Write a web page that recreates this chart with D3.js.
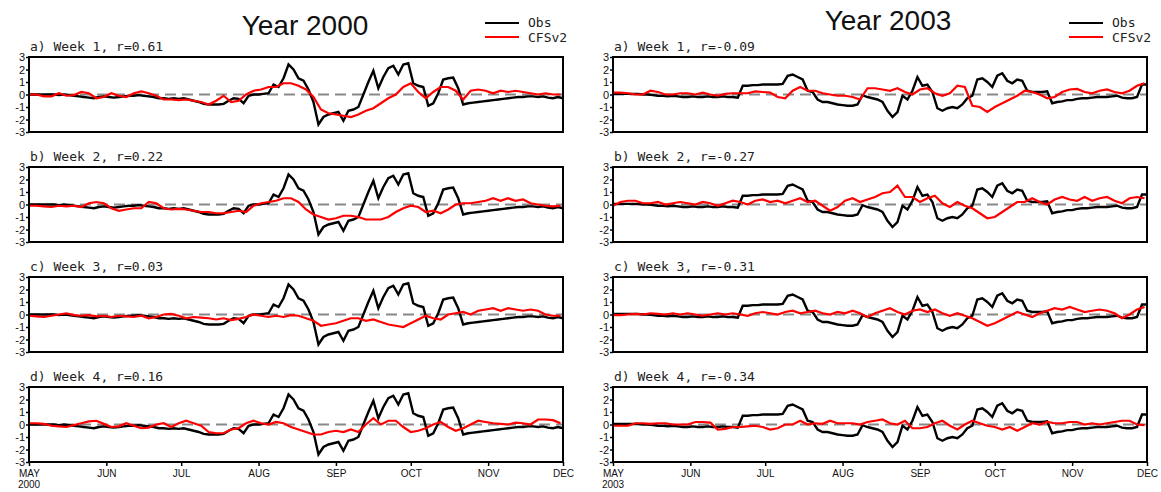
<!DOCTYPE html>
<html>
<head>
<meta charset="utf-8">
<title>Obs vs CFSv2, Year 2000 and Year 2003</title>
<script src="https://d3js.org/d3.v7.min.js"></script>
<style>
  body { margin: 0; background: #fff; }
</style>
</head>
<body>
<script>

// tick labels and categories
var months = ["MAY", "JUN", "JUL", "AUG", "SEP", "OCT", "NOV", "DEC"];
var yTicks = [-3, -2, -1, 0, 1, 2, 3];
var weekLabels = ["a) Week 1", "b) Week 2", "c) Week 3", "d) Week 4"];
var r2000 = ["0.61", "0.22", "0.03", "0.16"];
var r2003 = ["-0.09", "-0.27", "-0.31", "-0.34"];

// Obs: one value every 2 days from May 1 (108 values, to Dec 1)
var obs2000 = [
  0, 0, 0, 0, 0, 0, -0.05, 0, -0.05, -0.1,
  -0.15, -0.2, -0.25, -0.3, -0.2, -0.15, -0.2, -0.25, -0.2, -0.15,
  -0.1, -0.1, -0.05, -0.1, -0.15, -0.2, -0.3, -0.3, -0.35, -0.3,
  -0.35, -0.3, -0.4, -0.5, -0.6, -0.75, -0.8, -0.8, -0.8, -0.75,
  -0.5, -0.3, -0.35, -0.7, -0.1, 0, 0, 0.05, 0.1, 0.8,
  0.6, 1.3, 2.4, 2.0, 1.3, 1.1, 0.4, -0.6, -2.4, -1.8,
  -1.6, -1.5, -1.4, -2.1, -1.3, -1.2, -1.0, 0.0, 1.0, 1.9,
  0.5, 1.4, 2.1, 2.3, 1.6, 2.4, 2.5, 0.9, 0.7, 0.6,
  -0.9, -0.7, 0.1, 1.2, 1.3, 1.35, 0.5, -0.8, -0.7, -0.65,
  -0.6, -0.55, -0.5, -0.45, -0.4, -0.35, -0.3, -0.25, -0.2, -0.2,
  -0.15, -0.15, -0.2, -0.15, -0.25, -0.3, -0.2, -0.3
];
var obs2003 = [
  0.05, 0.05, 0.05, 0.05, 0.05, 0.05, 0, 0, -0.05, -0.1,
  -0.1, -0.15, -0.1, -0.15, -0.2, -0.2, -0.15, -0.2, -0.2, -0.15,
  -0.2, -0.2, -0.15, -0.2, -0.2, -0.25, 0.7, 0.7, 0.75, 0.75,
  0.8, 0.8, 0.8, 0.8, 0.85, 1.5, 1.6, 1.4, 1.2, 0.3,
  0.2, -0.4, -0.6, -0.6, -0.7, -0.8, -0.85, -0.9, -0.9, -0.8,
  -0.05, -0.2, -0.3, -0.4, -0.6, -1.3, -1.8, -1.4, -0.1, -0.4,
  0.3, 1.4, 0.7, 0.8, 0.2, -1.1, -1.3, -1.1, -1.0, -1.1,
  -0.8, -0.3, -0.1, 1.2, 1.3, 1.0, 0.6, 1.5, 1.7, 1.1,
  0.9, 1.2, 1.1, 0.3, 0.2, 0.2, 0.2, 0.25, -0.7, -0.6,
  -0.55, -0.45, -0.45, -0.35, -0.3, -0.3, -0.25, -0.2, -0.2, -0.2,
  -0.15, -0.1, -0.25, -0.3, -0.3, -0.2, 0.8, 0.8
];

// CFSv2: one value every 3 days from May 1 (72 values)
var cfs2000w1 = [
  0.0, 0.0, -0.15, -0.15, 0.1, -0.1, -0.05, 0.2, 0.1, -0.3, -0.2, 0.1,
  -0.1, -0.2, 0.1, 0.25, 0.1, -0.1, -0.4, -0.4, -0.45, -0.4, -0.5, -0.6,
  -0.8, -0.5, -0.1, -0.6, -0.5, 0.0, 0.3, 0.4, 0.6, 0.6, 0.9, 0.9,
  0.7, 0.4, -0.2, -1.2, -1.5, -1.6, -1.7, -1.8, -1.6, -1.3, -1.1, -0.7,
  -0.3, 0.0, 0.6, 0.9, 0.2, -0.3, 0.2, 0.6, 0.6, 0.3, -0.4, 0.3,
  0.4, 0.3, 0.1, 0.3, 0.2, 0.3, 0.2, 0.1, 0.0, 0.1, 0.0, 0.0
];
var cfs2000w2 = [
  -0.1, -0.1, -0.15, -0.2, -0.1, -0.15, -0.1, -0.2, 0.1, 0.2, 0.1, -0.3,
  -0.5, -0.4, -0.3, -0.3, 0.2, 0.1, -0.3, -0.4, -0.35, -0.4, -0.5, -0.6,
  -0.6, -0.7, -0.7, -0.6, -0.5, -0.6, -0.1, 0.1, 0.2, 0.3, 0.5, 0.5,
  0.2, -0.4, -0.8, -1.0, -1.2, -1.1, -0.9, -0.9, -1.0, -1.2, -1.2, -1.2,
  -1.0, -0.6, -0.3, -0.1, -0.2, -0.6, -0.5, -0.7, -0.4, 0.0, 0.1, 0.1,
  0.2, 0.3, 0.5, 0.3, 0.5, 0.3, 0.4, 0.1, 0.0, -0.1, -0.15, -0.1
];
var cfs2000w3 = [
  -0.1, -0.15, -0.2, -0.1, 0.0, 0.1, -0.05, -0.1, -0.05, -0.15, -0.1, -0.2,
  -0.1, -0.15, -0.2, -0.1, -0.3, -0.2, 0.0, 0.05, -0.1, -0.3, -0.2, -0.25,
  -0.3, -0.4, -0.3, -0.45, -0.35, -0.2, 0.0, -0.1, -0.2, -0.1, -0.2, -0.05,
  -0.1, -0.3, -0.5, -0.9, -0.8, -0.7, -0.5, -0.3, -0.3, -0.5, -0.4, -0.6,
  -0.8, -0.9, -1.0, -0.7, -0.4, -0.1, -0.3, -0.4, 0.0, 0.1, 0.2, 0.0,
  0.3, 0.4, 0.5, 0.3, 0.5, 0.4, 0.3, 0.4, 0.3, 0.0, -0.1, -0.1
];
var cfs2000w4 = [
  0.1, 0.1, 0.05, -0.1, -0.15, -0.2, -0.05, 0.1, 0.25, 0.3, 0.05, -0.2,
  -0.15, 0.1, -0.1, -0.3, -0.25, 0.0, 0.1, -0.2, 0.1, 0.3, 0.1, -0.1,
  -0.6, -0.7, -0.7, -0.4, -0.3, 0.1, 0.3, 0.1, 0.0, 0.2, 0.1, -0.2,
  -0.4, -0.6, -0.8, -0.8, -0.6, -0.5, -0.6, -0.4, -0.6, 0.0, 0.5, 0.0,
  0.3, 0.3, -0.2, -0.6, -0.5, -0.3, 0.0, 0.2, -0.2, -0.5, -0.3, 0.0,
  0.3, 0.2, 0.1, 0.05, 0.0, 0.15, 0.1, 0.0, 0.4, 0.4, 0.35, 0.1
];
var cfs2003w1 = [
  0.15, 0.15, 0.1, 0.0, 0.0, 0.3, 0.2, 0.0, 0.0, 0.1, 0.1, 0.0,
  0.15, 0.0, -0.1, 0.05, 0.1, 0.1, 0.1, 0.25, 0.2, 0.15, -0.2, -0.3,
  0.3, 0.6, 0.3, 0.3, 0.1, 0.0, -0.1, -0.1, -0.2, -0.4, 0.5, 0.5,
  0.4, 0.3, 0.5, 0.2, 0.0, 0.4, 0.5, 0.1, -0.1, 0.1, 0.7, 0.6,
  -0.9, -1.0, -1.4, -1.0, -0.7, -0.4, -0.1, 0.3, 0.2, 0.0, -0.3, -0.2,
  0.2, 0.4, 0.45, 0.2, 0.1, 0.3, 0.4, 0.2, 0.1, 0.3, 0.7, 0.9
];
var cfs2003w2 = [
  -0.1, 0.2, 0.3, 0.3, 0.1, 0.1, 0.2, 0.0, 0.1, 0.2, 0.1, 0.0,
  0.2, 0.1, -0.1, 0.1, 0.3, 0.2, 0.0, 0.3, 0.4, 0.2, 0.3, 0.1,
  0.3, 0.5, 0.2, 0.3, -0.1, -0.5, -0.2, 0.3, 0.5, 0.2, 0.4, 0.6,
  0.9, 1.0, 1.5, 0.6, 0.6, 0.2, 0.5, 0.7, 0.1, -0.2, 0.2, -0.1,
  -0.3, -0.7, -1.1, -1.0, -0.6, -0.2, 0.2, 0.2, 0.5, 0.2, 0.0, 0.4,
  0.6, 0.4, 0.3, 0.6, 0.3, 0.5, 0.6, 0.3, 0.1, 0.5, 0.6, 0.5
];
var cfs2003w3 = [
  -0.05, -0.05, 0.0, 0.05, 0.0, 0.1, 0.05, 0.0, 0.1, 0.0, 0.1, 0.0,
  -0.1, 0.0, 0.1, 0.0, 0.1, 0.0, -0.1, 0.1, 0.2, 0.1, 0.0, 0.2,
  0.3, 0.1, 0.2, 0.3, 0.1, 0.0, 0.2, 0.1, 0.3, 0.1, -0.2, 0.1,
  0.3, 0.5, 0.2, 0.0, 0.3, 0.4, 0.2, 0.4, 0.1, -0.1, 0.1, -0.1,
  -0.3, -0.6, -0.9, -0.7, -0.4, -0.1, 0.2, 0.0, -0.2, 0.1, 0.3, 0.5,
  0.4, 0.6, 0.4, 0.2, 0.3, 0.4, 0.3, 0.1, -0.3, 0.0, 0.4, 0.6
];
var cfs2003w4 = [
  -0.1, -0.1, -0.1, 0.1, 0.1, 0.05, 0.1, 0.1, 0.0, 0.0, 0.0, 0.2,
  0.2, 0.15, -0.4, -0.35, -0.2, -0.2, -0.15, -0.1, -0.2, -0.4, -0.3, 0.0,
  0.0, 0.3, 0.0, 0.1, 0.05, 0.3, 0.1, 0.1, 0.1, 0.0, 0.2, 0.3,
  0.4, 0.1, 0.0, 0.3, -0.3, -0.3, -0.2, 0.1, 0.3, -0.1, -0.4, 0.0,
  0.3, 0.1, -0.1, -0.2, -0.4, -0.2, -0.5, -0.2, 0.1, 0.0, 0.2, 0.1,
  0.1, 0.2, 0.2, 0.0, 0.1, 0.0, 0.1, 0.2, 0.3, 0.3, 0.0, -0.05
];

var w = 1161;
var h = 492;
var panelW = 534;
var panelH = 75;
var colX = [29, 613];
var rowY = [57, 167, 277, 387];
var obsStep = 2, cfsStep = 3;

var columns = [
  { year: 2000, title: "Year 2000", titleX: 305, titleY: 35, obs: obs2000,
    cfs: [cfs2000w1, cfs2000w2, cfs2000w3, cfs2000w4], r: r2000 },
  { year: 2003, title: "Year 2003", titleX: 888, titleY: 30, obs: obs2003,
    cfs: [cfs2003w1, cfs2003w2, cfs2003w3, cfs2003w4], r: r2003 }
];

var svg = d3.select("body")
  .append("svg")
  .attr("width", w)
  .attr("height", h);

var labelFont = "'DejaVu Sans Mono', monospace";
var tickFont = "'Liberation Sans', Arial, sans-serif";

columns.forEach(function(col, c) {
  var start = new Date(col.year, 4, 1);
  var x = d3.scaleTime()
    .domain([start, new Date(col.year, 11, 1)])
    .range([0, panelW]);
  var y = d3.scaleLinear().domain([-3, 3]).range([panelH, 0]);

  var lineFor = function(step) {
    return d3.line()
      .x(function(d, i) { return x(d3.timeDay.offset(start, i * step)); })
      .y(function(d) { return y(d); });
  };

  // title
  svg.append("text")
    .attr("x", col.titleX)
    .attr("y", col.titleY)
    .attr("text-anchor", "middle")
    .attr("font-family", tickFont)
    .attr("font-size", "28px")
    .attr("fill", "#111")
    .text(col.title);

  // legend
  var lg = svg.append("g").attr("transform", "translate(" + (colX[c] + 456) + ",0)");
  lg.append("line").attr("x1", 0).attr("x2", 34).attr("y1", 23).attr("y2", 23)
    .attr("stroke", "#000").attr("stroke-width", 2.2);
  lg.append("line").attr("x1", 0).attr("x2", 34).attr("y1", 37).attr("y2", 37)
    .attr("stroke", "#ff0000").attr("stroke-width", 2.2);
  lg.append("text").attr("x", 43).attr("y", 27).text("Obs");
  lg.append("text").attr("x", 43).attr("y", 42).text("CFSv2");
  lg.selectAll("text")
    .attr("font-family", labelFont)
    .attr("font-size", "13px")
    .attr("fill", "#222");

  rowY.forEach(function(top, k) {
    var g = svg.append("g")
      .attr("transform", "translate(" + colX[c] + "," + top + ")");

    g.append("text")
      .attr("x", 1)
      .attr("y", -6)
      .attr("font-family", labelFont)
      .attr("font-size", "13px")
      .attr("fill", "#222")
      .text(weekLabels[k] + ", r=" + col.r[k]);

    // zero line
    g.append("line")
      .attr("x1", 0).attr("x2", panelW)
      .attr("y1", y(0)).attr("y2", y(0))
      .attr("stroke", "#888")
      .attr("stroke-width", 1.8)
      .attr("stroke-dasharray", "11,6");

    g.append("path")
      .datum(col.obs)
      .attr("d", lineFor(obsStep))
      .attr("fill", "none")
      .attr("stroke", "#000")
      .attr("stroke-width", 2.4);

    g.append("path")
      .datum(col.cfs[k])
      .attr("d", lineFor(cfsStep))
      .attr("fill", "none")
      .attr("stroke", "#ff0000")
      .attr("stroke-width", 2.2);

    // y axis
    var ya = g.append("g")
      .call(d3.axisLeft(y).tickValues(yTicks).tickSize(3).tickPadding(1)
        .tickFormat(function(d) { return String(d); }));
    ya.select(".domain").remove();
    ya.selectAll("text")
      .attr("font-family", tickFont)
      .attr("font-size", "11px")
      .attr("fill", "#111");
    ya.selectAll("line").attr("stroke-width", 1.5);

    // frame
    g.append("rect")
      .attr("width", panelW)
      .attr("height", panelH)
      .attr("fill", "none")
      .attr("stroke", "#000")
      .attr("stroke-width", 2);

    if (k === rowY.length - 1) {
      var monthDates = months.map(function(m, i) { return new Date(col.year, 4 + i, 1); });
      var xa = g.append("g")
        .attr("transform", "translate(0," + panelH + ")")
        .call(d3.axisBottom(x).tickValues(monthDates).tickSize(4).tickPadding(4)
          .tickFormat(function(d, i) { return months[i]; }));
      xa.select(".domain").remove();
      xa.selectAll("line").attr("stroke-width", 1.5);
      xa.selectAll("text")
        .attr("font-family", tickFont)
        .attr("font-size", "10px")
        .attr("fill", "#111");
      g.append("text")
        .attr("x", 0)
        .attr("y", panelH + 26)
        .attr("text-anchor", "middle")
        .attr("font-family", tickFont)
        .attr("font-size", "10px")
        .attr("fill", "#111")
        .text(String(col.year));
    }
  });
});

</script>
</body>
</html>
